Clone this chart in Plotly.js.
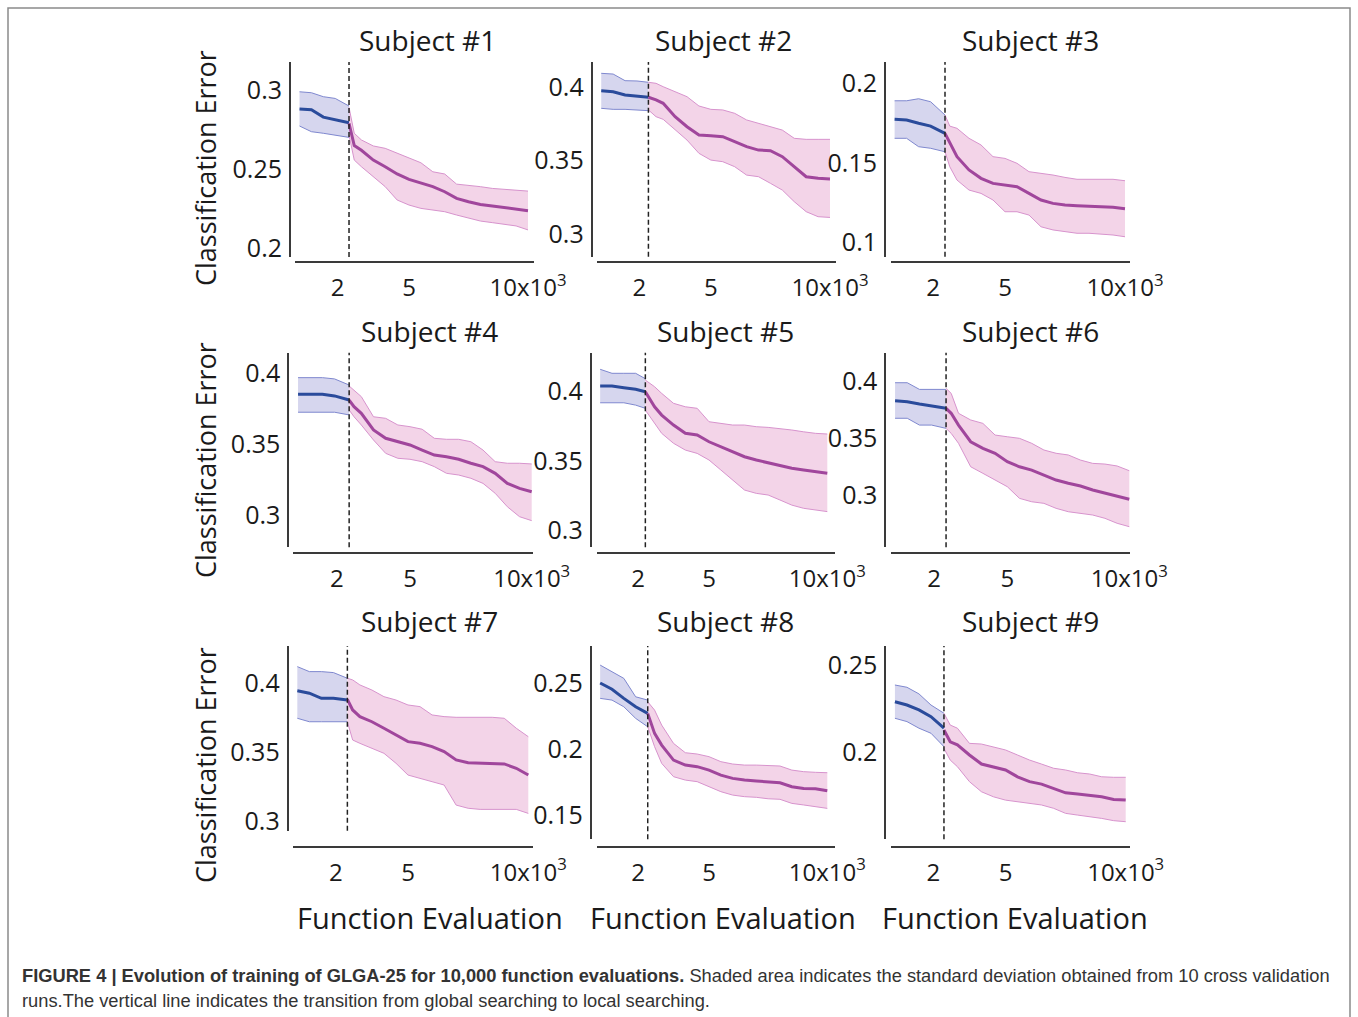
<!DOCTYPE html>
<html>
<head>
<meta charset="utf-8">
<script src="https://cdn.plot.ly/plotly-3.0.1.min.js"></script>
<style>html,body{margin:0;padding:0;background:#fff;}#chart{width:1358px;height:1017px;}</style>
</head>
<body>
<div id="chart"></div>
<script>
// ---------------- DATA (function evaluations in thousands) ----------------
const subjects = ["Subject #1","Subject #2","Subject #3","Subject #4","Subject #5","Subject #6","Subject #7","Subject #8","Subject #9"];
const switchX = [2.48, 2.38, 2.5, 2.5, 2.31, 2.49, 2.48, 2.41, 2.44];
const globalX = [0.4, 0.9, 1.4, 1.9];           // followed by switch point
const localX  = [2.7, 3, 3.5, 4, 4.5, 5, 5.5, 6, 6.5, 7, 7.5, 8, 8.5, 9, 9.5, 10]; // preceded by switch point
const xTickVals = [2, 5, 10];
const xTickText = ["2", "5", "10x10<sup>3</sup>"];
const yTickVals = [[0.2,0.25,0.3],[0.3,0.35,0.4],[0.1,0.15,0.2],[0.3,0.35,0.4],[0.3,0.35,0.4],[0.3,0.35,0.4],[0.3,0.35,0.4],[0.15,0.2,0.25],[0.15,0.2,0.25]];
const yTickText = [["0.2","0.25","0.3"],["0.3","0.35","0.4"],["0.1","0.15","0.2"],["0.3","0.35","0.4"],["0.3","0.35","0.4"],["0.3","0.35","0.4"],["0.3","0.35","0.4"],["0.15","0.2","0.25"],["0.15","0.2","0.25"]];

const globalMean = [
 [0.2880,0.2875,0.2829,0.2814,0.2793],
 [0.3975,0.3968,0.3946,0.3939,0.3930],
 [0.1775,0.1770,0.1750,0.1732,0.1686],
 [0.3853,0.3853,0.3853,0.3842,0.3813],
 [0.4041,0.4041,0.4029,0.4017,0.4000],
 [0.3832,0.3823,0.3803,0.3785,0.3765],
 [0.3944,0.3926,0.3889,0.3889,0.3877],
 [0.2505,0.2457,0.2388,0.2324,0.2274],
 [0.2291,0.2272,0.2244,0.2205,0.2139]
];
const globalUpper = [
 [0.2989,0.2983,0.2958,0.2947,0.2899],
 [0.4093,0.4088,0.4043,0.4041,0.4032],
 [0.1892,0.1892,0.1905,0.1886,0.1802],
 [0.3971,0.3971,0.3971,0.3962,0.3919],
 [0.4162,0.4133,0.4133,0.4133,0.4094],
 [0.3991,0.3991,0.3932,0.3932,0.3932],
 [0.4118,0.4082,0.4082,0.4075,0.4034],
 [0.2641,0.2590,0.2540,0.2400,0.2375],
 [0.2387,0.2374,0.2336,0.2272,0.2225]
];
const globalLower = [
 [0.2773,0.2737,0.2727,0.2716,0.2701],
 [0.3855,0.3848,0.3848,0.3844,0.3839],
 [0.1655,0.1655,0.1602,0.1592,0.1570],
 [0.3727,0.3727,0.3727,0.3727,0.3708],
 [0.3920,0.3920,0.3920,0.3903,0.3880],
 [0.3677,0.3677,0.3617,0.3617,0.3588],
 [0.3745,0.3720,0.3720,0.3720,0.3720],
 [0.2388,0.2375,0.2324,0.2236,0.2172],
 [0.2196,0.2177,0.2139,0.2110,0.2033]
];
const localMean = [
 [0.2790,0.2650,0.2620,0.2558,0.2516,0.2470,0.2436,0.2411,0.2390,0.2358,0.2316,0.2295,0.2278,0.2268,0.2259,0.2251,0.2238],
 [0.3930,0.3912,0.3889,0.3798,0.3730,0.3673,0.3669,0.3662,0.3628,0.3594,0.3571,0.3567,0.3526,0.3458,0.3390,0.3379,0.3374],
 [0.1686,0.1623,0.1539,0.1455,0.1402,0.1370,0.1360,0.1349,0.1307,0.1265,0.1244,0.1233,0.1229,0.1227,0.1223,0.1219,0.1210],
 [0.3813,0.3766,0.3719,0.3602,0.3543,0.3519,0.3496,0.3460,0.3425,0.3413,0.3395,0.3367,0.3343,0.3296,0.3225,0.3190,0.3166],
 [0.4000,0.3891,0.3831,0.3759,0.3699,0.3687,0.3638,0.3602,0.3566,0.3530,0.3506,0.3486,0.3470,0.3446,0.3434,0.3421,0.3410],
 [0.3765,0.3721,0.3617,0.3470,0.3412,0.3368,0.3294,0.3249,0.3220,0.3176,0.3132,0.3103,0.3079,0.3044,0.3015,0.2991,0.2962],
 [0.3882,0.3805,0.3757,0.3720,0.3673,0.3624,0.3576,0.3564,0.3540,0.3504,0.3444,0.3424,0.3420,0.3420,0.3415,0.3384,0.3335],
 [0.2274,0.2122,0.2033,0.1919,0.1881,0.1869,0.1843,0.1805,0.1780,0.1767,0.1760,0.1755,0.1747,0.1717,0.1704,0.1701,0.1686],
 [0.2129,0.2061,0.2043,0.1985,0.1933,0.1918,0.1899,0.1860,0.1832,0.1818,0.1794,0.1768,0.1761,0.1755,0.1745,0.1730,0.1726]
];
const localUpper = [
 [0.2890,0.2727,0.2685,0.2647,0.2632,0.2600,0.2569,0.2541,0.2484,0.2470,0.2406,0.2400,0.2390,0.2379,0.2373,0.2369,0.2362],
 [0.4032,0.4025,0.4002,0.3968,0.3934,0.3871,0.3848,0.3844,0.3821,0.3776,0.3753,0.3730,0.3707,0.3651,0.3644,0.3644,0.3644],
 [0.1802,0.1732,0.1718,0.1655,0.1613,0.1539,0.1528,0.1497,0.1444,0.1434,0.1423,0.1408,0.1396,0.1396,0.1396,0.1396,0.1387],
 [0.3912,0.3884,0.3837,0.3695,0.3684,0.3637,0.3625,0.3607,0.3543,0.3536,0.3536,0.3519,0.3460,0.3378,0.3367,0.3367,0.3362],
 [0.4084,0.4036,0.3988,0.3916,0.3891,0.3880,0.3783,0.3771,0.3759,0.3759,0.3747,0.3742,0.3735,0.3723,0.3710,0.3699,0.3694],
 [0.3941,0.3897,0.3721,0.3662,0.3632,0.3529,0.3514,0.3500,0.3456,0.3397,0.3368,0.3353,0.3308,0.3279,0.3273,0.3256,0.3214],
 [0.4034,0.4022,0.3986,0.3949,0.3901,0.3877,0.3841,0.3829,0.3769,0.3757,0.3752,0.3752,0.3752,0.3752,0.3745,0.3673,0.3612],
 [0.2362,0.2299,0.2185,0.2046,0.1975,0.1965,0.1945,0.1907,0.1889,0.1881,0.1881,0.1879,0.1874,0.1843,0.1831,0.1826,0.1823],
 [0.2225,0.2157,0.2139,0.2052,0.2048,0.2033,0.2014,0.1985,0.1956,0.1933,0.1909,0.1899,0.1883,0.1876,0.1860,0.1857,0.1857]
];
const localLower = [
 [0.2716,0.2558,0.2516,0.2453,0.2390,0.2306,0.2274,0.2253,0.2243,0.2232,0.2211,0.2190,0.2173,0.2163,0.2154,0.2142,0.2117],
 [0.3844,0.3798,0.3780,0.3707,0.3639,0.3549,0.3503,0.3492,0.3458,0.3401,0.3390,0.3345,0.3299,0.3220,0.3152,0.3118,0.3113],
 [0.1570,0.1475,0.1391,0.1328,0.1307,0.1265,0.1191,0.1191,0.1170,0.1096,0.1076,0.1065,0.1055,0.1055,0.1050,0.1044,0.1033],
 [0.3743,0.3695,0.3637,0.3531,0.3437,0.3402,0.3395,0.3378,0.3343,0.3296,0.3284,0.3261,0.3225,0.3155,0.3060,0.2990,0.2962],
 [0.3867,0.3771,0.3699,0.3627,0.3578,0.3554,0.3506,0.3434,0.3361,0.3289,0.3265,0.3253,0.3217,0.3180,0.3157,0.3144,0.3133],
 [0.3588,0.3544,0.3456,0.3249,0.3191,0.3132,0.3073,0.2970,0.2940,0.2926,0.2882,0.2852,0.2838,0.2823,0.2794,0.2750,0.2720],
 [0.3720,0.3588,0.3564,0.3528,0.3492,0.3420,0.3335,0.3311,0.3287,0.3263,0.3118,0.3095,0.3087,0.3087,0.3087,0.3087,0.3058],
 [0.2172,0.2021,0.1894,0.1793,0.1767,0.1755,0.1717,0.1679,0.1653,0.1641,0.1636,0.1625,0.1621,0.1590,0.1578,0.1565,0.1552],
 [0.2023,0.1956,0.1918,0.1832,0.1774,0.1745,0.1726,0.1717,0.1707,0.1698,0.1679,0.1650,0.1640,0.1631,0.1621,0.1608,0.1602]
];
const captionLine1 = '<b>FIGURE 4 | Evolution of training of GLGA-25 for 10,000 function evaluations.</b> Shaded area indicates the standard deviation obtained from 10 cross validation';
const captionLine2 = 'runs.The vertical line indicates the transition from global searching to local searching.';

// ---------------- LAYOUT GEOMETRY (pixels) ----------------
const W = 1358, H = 1017;
// x0: pixel of x=0, x10: pixel of x=10, xl: x-axis line extent, xlY: x-axis line y, yd: y-axis [top,bottom] px, yr: y range [low,high]
const boxes = [
 {x0:290,   x10:528,   xl:[295,534],   xlY:262.3, yd:[62,257],     yr:[0.1946,0.3177]},
 {x0:591.7, x10:830,   xl:[596.7,836], xlY:262.3, yd:[62,256.7],   yr:[0.2846,0.4170]},
 {x0:885,   x10:1125,  xl:[890.7,1130],xlY:262.3, yd:[62,256.7],   yr:[0.0907,0.2137]},
 {x0:288.3, x10:531.7, xl:[293.3,532.7],xlY:553.3,yd:[352.7,547.3],yr:[0.2774,0.4147]},
 {x0:590.7, x10:827.3, xl:[596.7,835], xlY:553.3, yd:[352.7,547.3], yr:[0.2875,0.4282]},
 {x0:885.3, x10:1129.3,xl:[890.7,1130],xlY:553.3, yd:[352.7,547.3], yr:[0.2538,0.4256]},
 {x0:287.7, x10:528.3, xl:[293.3,532.7],xlY:846.7,yd:[646,830.7],  yr:[0.2933,0.4267]},
 {x0:590.7, x10:827.3, xl:[596.7,835], xlY:846.7, yd:[646,839.3],   yr:[0.1317,0.2786]},
 {x0:885.3, x10:1125.7,xl:[890.7,1130],xlY:846.7, yd:[646,839.3],   yr:[0.1501,0.2611]}
];
const titleX = [427, 723, 1030, 429, 725, 1030, 429, 725, 1030];
const titleY = [40, 40, 40, 331, 331, 331, 621, 621, 621];

const FONT = '"Open Sans", "Noto Sans", sans-serif';
const blueLine = '#2a4b9b', blueFill = 'rgba(214,214,238,1)', blueEdge = '#7f88cf';
const magLine = '#a0469c', magFill = 'rgba(243,212,232,1)', magEdge = '#d793cd';

const traces = [];
const layout = {
  width: W, height: H, margin:{l:0,r:0,t:0,b:0},
  paper_bgcolor:'#fff', plot_bgcolor:'rgba(0,0,0,0)',
  showlegend:false, font:{family:FONT, color:'#222'},
  shapes:[], annotations:[]
};

subjects.forEach((name, i) => {
  const b = boxes[i];
  const k = i === 0 ? '' : String(i+1);
  const xa = 'x'+k, ya = 'y'+k;
  const s = (b.x10 - b.x0)/10;
  const gx = globalX.concat([switchX[i]]);
  const lx = [switchX[i]].concat(localX);

  traces.push({x:gx, y:globalUpper[i], xaxis:xa, yaxis:ya, mode:'lines', line:{color:blueEdge, width:1}, hoverinfo:'skip'});
  traces.push({x:gx, y:globalLower[i], xaxis:xa, yaxis:ya, mode:'lines', line:{color:blueEdge, width:1}, fill:'tonexty', fillcolor:blueFill, hoverinfo:'skip'});
  traces.push({x:lx, y:localUpper[i], xaxis:xa, yaxis:ya, mode:'lines', line:{color:magEdge, width:1}, hoverinfo:'skip'});
  traces.push({x:lx, y:localLower[i], xaxis:xa, yaxis:ya, mode:'lines', line:{color:magEdge, width:1}, fill:'tonexty', fillcolor:magFill, hoverinfo:'skip'});
  traces.push({x:gx, y:globalMean[i], xaxis:xa, yaxis:ya, mode:'lines', line:{color:blueLine, width:3}});
  traces.push({x:lx, y:localMean[i], xaxis:xa, yaxis:ya, mode:'lines', line:{color:magLine, width:3}});

  layout['xaxis'+k] = {
    domain:[b.xl[0]/W, b.xl[1]/W],
    range:[(b.xl[0]-b.x0)/s, (b.xl[1]-b.x0)/s],
    anchor:'free', position: 1 - b.xlY/H,
    showline:true, linecolor:'#3a3a3a', linewidth:2,
    showgrid:false, zeroline:false,
    tickmode:'array', tickvals:xTickVals, ticktext:xTickText,
    ticks:'outside', ticklen:4, tickcolor:'rgba(0,0,0,0)',
    tickfont:{family:FONT, size:24, color:'#1a1a1a'}
  };
  layout['yaxis'+k] = {
    domain:[1 - b.yd[1]/H, 1 - b.yd[0]/H],
    range:b.yr,
    anchor:'free', position: b.x0/W,
    showline:true, linecolor:'#3a3a3a', linewidth:2,
    showgrid:false, zeroline:false,
    tickmode:'array', tickvals:yTickVals[i], ticktext:yTickText[i],
    ticks:'outside', ticklen:2, tickcolor:'rgba(0,0,0,0)',
    tickfont:{family:FONT, size:25, color:'#1a1a1a'}
  };
  layout.shapes.push({type:'line', xref:xa, yref:ya+' domain', x0:switchX[i], x1:switchX[i], y0:0, y1:1,
                      line:{color:'#222', width:1.5, dash:'5px,3px'}});
  layout.annotations.push({xref:'paper', yref:'paper', x:titleX[i]/W, y:1-titleY[i]/H, text:name,
                           showarrow:false, xanchor:'center', yanchor:'middle', font:{family:FONT, size:28, color:'#1a1a1a'}});
});

[168, 460, 765].forEach(yc => {
  layout.annotations.push({xref:'paper', yref:'paper', x:205/W, y:1-yc/H, text:'Classification Error', textangle:-90,
                           showarrow:false, xanchor:'center', yanchor:'middle', font:{family:FONT, size:27, color:'#1a1a1a'}});
});
[430, 723, 1015].forEach(xc => {
  layout.annotations.push({xref:'paper', yref:'paper', x:xc/W, y:1-917/H, text:'Function Evaluation',
                           showarrow:false, xanchor:'center', yanchor:'middle', font:{family:FONT, size:29, color:'#1a1a1a'}});
});

// caption (two lines)
const capFont = {family:'"Liberation Sans", Arial, sans-serif', size:18.3, color:'#333'};
layout.annotations.push({xref:'paper', yref:'paper', x:20/W, y:1-975/H, xanchor:'left', yanchor:'middle', align:'left', showarrow:false,
  text:captionLine1, font:capFont});
layout.annotations.push({xref:'paper', yref:'paper', x:20/W, y:1-1000/H, xanchor:'left', yanchor:'middle', align:'left', showarrow:false,
  text:captionLine2, font:capFont});

// figure frame
layout.shapes.push({type:'rect', xref:'paper', yref:'paper', x0:8/W, x1:1350/W, y0:-0.05, y1:1-8/H,
                    line:{color:'#8a8a8a', width:1.5}, fillcolor:'rgba(0,0,0,0)', layer:'below'});

Plotly.newPlot('chart', traces, layout, {displayModeBar:false, staticPlot:true});
</script>
</body>
</html>
